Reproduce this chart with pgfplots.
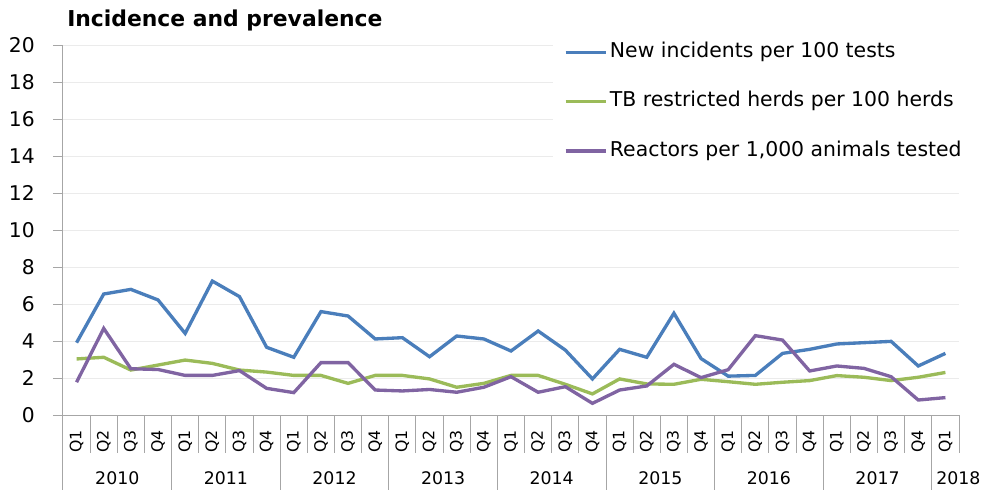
\documentclass[border=0pt]{standalone}
\usepackage{pgfplots}
\pgfplotsset{compat=1.18}
\usepackage{pgfplotstable}
\usepackage{fontspec}
\setmainfont{DejaVu Sans}
\definecolor{cblue}{HTML}{4A7EBB}
\definecolor{cgreen}{HTML}{9BBB59}
\definecolor{cpurple}{HTML}{8064A2}
\definecolor{axgray}{HTML}{A6A6A6}
\definecolor{gridgray}{HTML}{EBEBEB}

\pgfplotstableread{
x blue green purple
0  3.91 3.03 1.77
1  6.54 3.12 4.68
2  6.79 2.43 2.50
3  6.22 2.70 2.46
4  4.41 2.97 2.14
5  7.24 2.79 2.14
6  6.40 2.43 2.40
7  3.66 2.32 1.44
8  3.12 2.14 1.21
9  5.59 2.14 2.83
10 5.35 1.71 2.83
11 4.11 2.14 1.35
12 4.18 2.14 1.30
13 3.15 1.95 1.38
14 4.27 1.50 1.23
15 4.11 1.71 1.50
16 3.46 2.14 2.07
17 4.54 2.14 1.23
18 3.51 1.66 1.53
19 1.95 1.14 0.63
20 3.55 1.95 1.35
21 3.12 1.68 1.57
22 5.50 1.66 2.74
23 3.05 1.93 2.02
24 2.10 1.80 2.45
25 2.14 1.66 4.29
26 3.33 1.77 4.05
27 3.55 1.86 2.38
28 3.84 2.13 2.65
29 3.91 2.04 2.52
30 3.98 1.86 2.07
31 2.65 2.04 0.81
32 3.33 2.30 0.94
}\data

\begin{document}
\begin{tikzpicture}
\begin{axis}[
  at={(0pt,0pt)}, anchor=south west,
  scale only axis, width=672pt, height=277.5pt,
  xmin=-0.5, xmax=32.5, ymin=0, ymax=20,
  ytick={0,2,...,20},
  xtick={0,...,32},
  xticklabels={Q1,Q2,Q3,Q4,Q1,Q2,Q3,Q4,Q1,Q2,Q3,Q4,Q1,Q2,Q3,Q4,Q1,Q2,Q3,Q4,Q1,Q2,Q3,Q4,Q1,Q2,Q3,Q4,Q1,Q2,Q3,Q4,Q1},
  axis x line*=bottom, axis y line*=left,
  axis line style={draw=axgray,line width=0.75pt,-},
  ymajorgrids, grid style={draw=gridgray, line width=0.75pt},
  major tick length=7.5pt,
  tick align=outside,
  x tick style={draw=none},
  y tick style={draw=axgray, line width=0.75pt},
  /pgf/number format/assume math mode=true,
  yticklabel style={font=\fontsize{15.2}{15.2}\selectfont, inner sep=0pt, xshift=-13.5pt, anchor=east},
  xticklabel style={font=\fontsize{11.8}{11.8}\selectfont, inner sep=0pt, yshift=-3.75pt, rotate=90, anchor=east},
  clip=false,
  legend image code/.code={\draw[#1,line width=2.5pt] (0pt,0pt) -- (30pt,0pt);},
  legend style={at={(0.5469,1.03)}, anchor=north west, draw=none, fill=white,
    inner xsep=8pt, inner ysep=4pt,
    font=\fontsize{15.3}{15.3}\selectfont,
    nodes={inner sep=2pt, text height=11.5pt, text depth=3.5pt},
    row sep=18pt},
  legend cell align=left,
]
\addplot[cblue, line width=2.5pt] table[x=x, y=blue] {\data};
\addlegendentry{New incidents per 100 tests}
\addplot[cgreen, line width=2.5pt] table[x=x, y=green] {\data};
\addlegendentry{TB restricted herds per 100 herds}
\addplot[cpurple, line width=2.5pt] table[x=x, y=purple] {\data};
\addlegendentry{Reactors per 1,000 animals tested}
\end{axis}
% category separators
\foreach \k in {0,...,33} {
  \draw[axgray, line width=0.75pt] ({\k*20.363636pt},0pt) -- ++(0pt,-28.5pt);
}
\foreach \k in {0,4,...,32} {
  \draw[axgray, line width=0.75pt] ({\k*20.363636pt},0pt) -- ++(0pt,-56.25pt);
}
\foreach \y [count=\i from 0] in {2010,2011,2012,2013,2014,2015,2016,2017} {
  \node[font=\fontsize{13}{13}\selectfont, inner sep=0pt] at ({(4*\i+2)*20.363636pt},-47.25pt) {\y};
}
\node[font=\fontsize{13}{13}\selectfont, inner sep=0pt, anchor=west] at (654.75pt,-47.25pt) {2018};
\node[font=\bfseries\fontsize{16.4}{16.4}\selectfont, inner sep=0pt, anchor=base west] at (3pt,291pt) {Incidence and prevalence};
\pgfresetboundingbox
\useasboundingbox (-47.25pt,-56.25pt) rectangle (689.25pt,311.25pt);
\end{tikzpicture}
\end{document}
